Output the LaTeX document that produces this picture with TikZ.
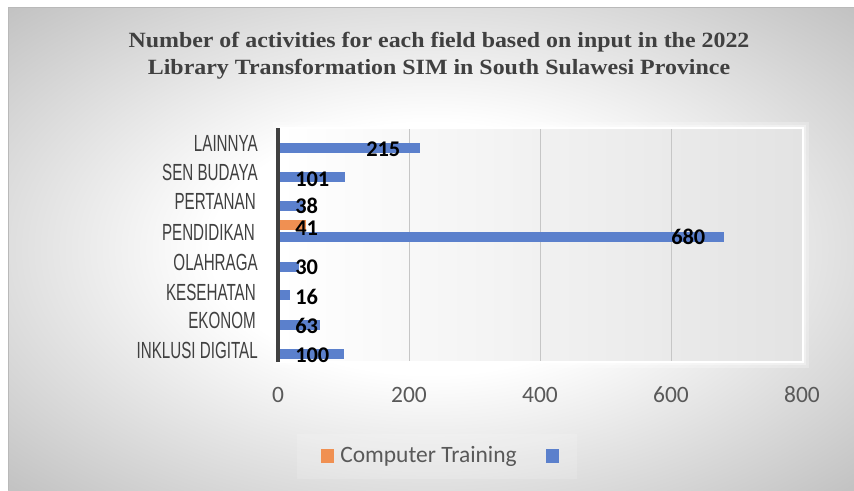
\documentclass[tikz,border=0pt]{standalone}
\usepackage{fontspec}
\setmainfont{Carlito}
\newfontfamily\titlefont[FakeStretch=1.1]{Liberation Serif}
\newfontfamily\catfont[FakeStretch=0.65]{Liberation Sans}
\usetikzlibrary{backgrounds}
\definecolor{barblue}{RGB}{91,128,204}
\definecolor{barorange}{RGB}{240,144,82}
\definecolor{textgray}{RGB}{89,89,89}
\definecolor{titlegray}{RGB}{64,64,64}
\pgfdeclareradialshading{chartback}{\pgfpointorigin}{color(0bp)=(white); color(13bp)=(white); color(35bp)=(gray!47); color(50bp)=(gray!47)}

\begin{document}
\begin{tikzpicture}[
    x=0.75pt, y=-0.75pt,
    title/.style={font=\titlefont\bfseries\fontsize{16.3}{19}\selectfont, text=titlegray, inner sep=0pt},
    axis line/.style={line width=2.6pt, draw=titlegray},
    grid line/.style={line width=0.75pt, draw=gray!45},
    bluebar/.style={fill=barblue},
    orangebar/.style={fill=barorange},
    category/.style={font=\catfont\fontsize{17.5}{20}\selectfont, text=titlegray, anchor=east, inner sep=0pt},
    value/.style={font=\bfseries\fontsize{16.8}{19}\selectfont, text=black, anchor=west, inner sep=0pt},
    tick/.style={font=\fontsize{17.6}{20}\selectfont, text=textgray, inner sep=0pt},
    every node/.style={color=black}
    ]

\useasboundingbox (0,0) rectangle (854,490);
\fill[white] (0,0) rectangle (854,490);
\shade[shading=chartback] (8,7) rectangle (854,490);
\draw[gray!55, line width=0.75pt] (8,490) -- (8,7) -- (854,7);

\node[title] (titleone) at (439,42) {Number of activities for each field based on input in the 2022};
\node[title] (titletwo) at (439,69) {Library Transformation SIM in South Sulawesi Province};

\draw[white, opacity=0.25, line width=9pt] (279,128) rectangle (803,362);
\draw[white, opacity=0.35, line width=5pt] (279,128) rectangle (803,362);
\shade[left color=white, right color=gray!22, draw=white, line width=1.5pt]
    (279,128) rectangle (803,362);

\draw[grid line] (409.5,129) -- (409.5,361);
\draw[grid line] (540,129) -- (540,361);
\draw[grid line] (671,129) -- (671,361);

\fill[bluebar] (279,143) rectangle (419.6,153);
\fill[bluebar] (279,172) rectangle (345.1,182);
\fill[bluebar] (279,201) rectangle (303.9,211);
\fill[orangebar] (279,220) rectangle (305.8,230);
\fill[bluebar] (279,232) rectangle (723.7,242);
\fill[bluebar] (279,262) rectangle (298.6,272);
\fill[bluebar] (279,290) rectangle (289.5,300);
\fill[bluebar] (279,320) rectangle (320.2,330);
\fill[bluebar] (279,349) rectangle (344.4,359);

\draw[axis line] (278,128) -- (278,362);

\node[category] (lainnya) at (258,143) {LAINNYA};
\node[category] (seni) at (258,172) {SEN BUDAYA};
\node[category] (pertanian) at (256,201) {PERTANAN};
\node[category] (pendidikan) at (255,232) {PENDIDIKAN};
\node[category] (olahraga) at (258,262) {OLAHRAGA};
\node[category] (kesehatan) at (256,292) {KESEHATAN};
\node[category] (ekonomi) at (256,320) {EKONOM};
\node[category] (inklusi) at (258,350) {INKLUSI DIGITAL};

\node[value] (vlainnya) at (366,149) {215};
\node[value] (vseni) at (295,179) {101};
\node[value] (vpertanian) at (295,206) {38};
\node[value] (vtraining) at (295,228) {41};
\node[value] (vpendidikan) at (671,237) {680};
\node[value] (volahraga) at (295,267) {30};
\node[value] (vkesehatan) at (295,297) {16};
\node[value] (vekonomi) at (295,326) {63};
\node[value] (vinklusi) at (295,355) {100};

\node[tick] (tzero) at (278,395) {0};
\node[tick] (ttwo) at (409,395) {200};
\node[tick] (tfour) at (540,395) {400};
\node[tick] (tsix) at (671,395) {600};
\node[tick] (teight) at (802,395) {800};

\fill[white, opacity=0.15] (297,434) rectangle (577,479);
\fill[orangebar] (321,449) rectangle (334,463);
\node[tick, anchor=west] (legendtext) at (340,456) {Computer Training};
\fill[bluebar] (546,449) rectangle (559,463);

\end{tikzpicture}
\end{document}
